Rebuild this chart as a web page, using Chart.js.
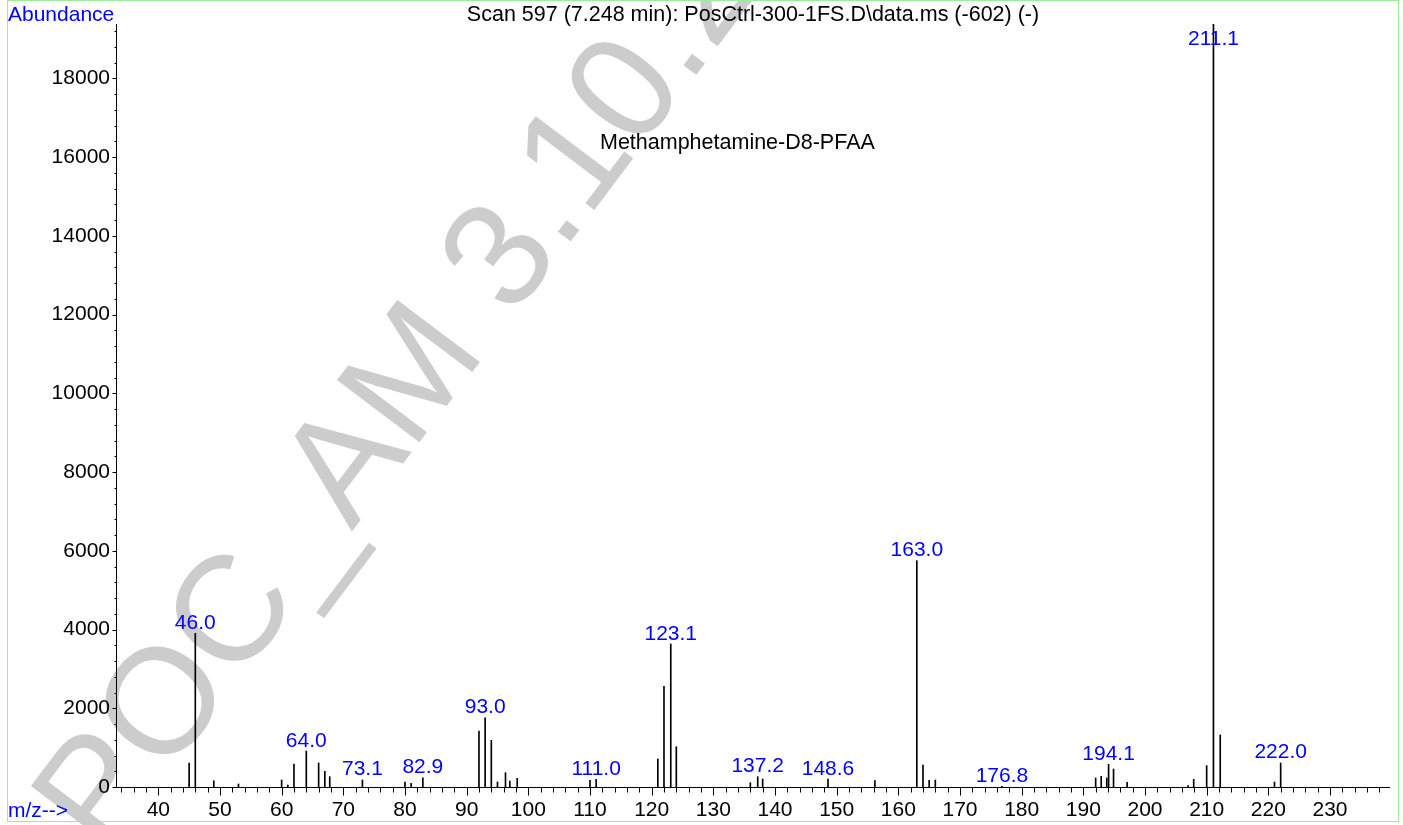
<!DOCTYPE html>
<html>
<head>
<meta charset="utf-8">
<script src="https://cdn.jsdelivr.net/npm/chart.js@4"></script>
<style>
  body { margin: 0; background: #fff; }
  canvas { display: block; }
</style>
</head>
<body>
<canvas id="msChart" width="1403" height="825"></canvas>
<script>
// spectrum sticks: m/z and abundance
const mzValues = [45, 46, 49, 53, 60, 61, 62, 64, 66, 67, 67.8, 73.1, 80, 81, 82.9,
  92, 93, 94, 95, 96.3, 97, 98.2, 110, 111, 121, 122, 123.1, 124, 136, 137.2, 138,
  148.6, 156.2, 163, 164, 165, 166, 176.8, 192, 192.9, 193.8, 194.1, 194.9, 197.1,
  207, 207.9, 210, 211.1, 212.2, 221, 222];
const abundance = [610, 3904, 160, 76, 178, 51, 584, 914, 610, 399, 262, 178, 127, 94, 236,
  1422, 1760, 1186, 127, 363, 152, 221, 170, 196, 711, 2558, 3632, 1024, 109, 262, 203,
  203, 160, 5748, 559, 170, 178, 20, 229, 272, 229, 577, 457, 119,
  35, 196, 541, 19380, 1321, 127, 610];
const labelledPeaks = [46, 64, 73.1, 82.9, 93, 111, 123.1, 137.2, 148.6, 163, 176.8, 194.1, 211.1, 222];

const xTicks = [40, 50, 60, 70, 80, 90, 100, 110, 120, 130, 140, 150, 160, 170, 180, 190, 200, 210, 220, 230];
const yTicks = [0, 2000, 4000, 6000, 8000, 10000, 12000, 14000, 16000, 18000];

const titleText = "Scan 597 (7.248 min): PosCtrl-300-1FS.D\\data.ms (-602) (-)";
const compoundText = "Methamphetamine-D8-PFAA";
const watermarkText = "POC_AM 3.10.2";

const FAMILY = "'Liberation Sans', Arial, Helvetica, sans-serif";
const FONT = "21px " + FAMILY;
const BLUE = "#0000ff";

const spectrumDecor = {
  id: "spectrumDecor",
  beforeDraw(chart) {
    const ctx = chart.ctx;
    ctx.save();
    ctx.fillStyle = "#fff";
    ctx.fillRect(0, 0, chart.width, chart.height);
    // watermark
    ctx.translate(106, 858);
    ctx.rotate(-53 * Math.PI / 180);
    ctx.fillStyle = "#cccccc";
    ctx.font = "150px " + FAMILY;
    ctx.textBaseline = "alphabetic";
    ctx.fillText(watermarkText, 0, 0);
    ctx.restore();
    // frame
    ctx.save();
    ctx.strokeStyle = "#99ee99";
    ctx.lineWidth = 1;
    ctx.strokeRect(7.5, 0.5, 1391, 821);
    ctx.restore();
  },
  afterDraw(chart) {
    const ctx = chart.ctx;
    const xs = chart.scales.x;
    const ys = chart.scales.y;
    const area = chart.chartArea;
    const left = Math.round(area.left) + 0.5;
    const bottom = Math.round(area.bottom) + 0.5;
    ctx.save();
    ctx.strokeStyle = "#000";
    ctx.lineWidth = 1;
    ctx.beginPath();
    ctx.moveTo(left, Math.round(area.top));
    ctx.lineTo(left, bottom);
    ctx.lineTo(Math.round(area.right), bottom);
    // x ticks every 2
    for (let v = 34; v <= xs.max; v += 2) {
      const px = Math.round(xs.getPixelForValue(v)) + 0.5;
      const len = v % 10 === 0 ? 8 : 5;
      ctx.moveTo(px, bottom);
      ctx.lineTo(px, bottom + len);
    }
    // y ticks every 400
    for (let v = 0; v <= ys.max; v += 400) {
      const py = Math.round(ys.getPixelForValue(v)) + 0.5;
      const len = v % 2000 === 0 ? 4 : 2;
      ctx.moveTo(left, py);
      ctx.lineTo(left - len, py);
    }
    ctx.stroke();

    ctx.font = FONT;
    ctx.textBaseline = "alphabetic";
    ctx.fillStyle = BLUE;
    ctx.textAlign = "left";
    ctx.fillText("Abundance", 8, 21);
    ctx.fillText("m/z-->", 8, 817);
    ctx.fillStyle = "#000";
    ctx.textAlign = "center";
    ctx.font = "21.5px " + FAMILY;
    ctx.fillText(titleText, (area.left + area.right) / 2, 21);
    ctx.textAlign = "left";
    ctx.fillText(compoundText, 600, 149);

    // peak labels
    ctx.font = FONT;
    ctx.fillStyle = BLUE;
    ctx.textAlign = "center";
    labelledPeaks.forEach((mz) => {
      const i = mzValues.indexOf(mz);
      const px = xs.getPixelForValue(mz);
      const py = ys.getPixelForValue(abundance[i]);
      ctx.fillText(mz.toFixed(1), px, Math.max(py - 4.5, 45));
    });
    ctx.restore();
  },
};

new Chart(document.getElementById("msChart"), {
  type: "bar",
  data: {
    datasets: [
      {
        data: mzValues.map((mz, i) => ({ x: mz, y: abundance[i] })),
        backgroundColor: "#000",
        borderWidth: 0,
        barThickness: 1,
      },
    ],
  },
  options: {
    responsive: false,
    animation: false,
    events: [],
    layout: { padding: { left: 16, right: 13, top: 24, bottom: 8 } },
    plugins: { legend: { display: false }, tooltip: { enabled: false } },
    scales: {
      x: {
        type: "linear",
        min: 33.14,
        max: 239.73,
        offset: false,
        grid: { display: false, drawTicks: false },
        border: { display: false },
        afterBuildTicks: (s) => { s.ticks = xTicks.map((v) => ({ value: v })); },
        afterFit: (s) => { s.height = 30; },
        ticks: {
          color: "#000",
          font: { family: FAMILY, size: 21 },
          padding: 11,
          maxRotation: 0,
          autoSkip: false,
          callback: (v) => String(v),
        },
      },
      y: {
        min: 0,
        max: 19380,
        grid: { display: false, drawTicks: false },
        border: { display: false },
        afterBuildTicks: (s) => { s.ticks = yTicks.map((v) => ({ value: v })); },
        afterFit: (s) => { s.width = 100; },
        ticks: {
          color: "#000",
          font: { family: FAMILY, size: 21 },
          padding: 6,
          autoSkip: false,
          callback: (v) => String(v),
        },
      },
    },
  },
  plugins: [spectrumDecor],
});
</script>
</body>
</html>
